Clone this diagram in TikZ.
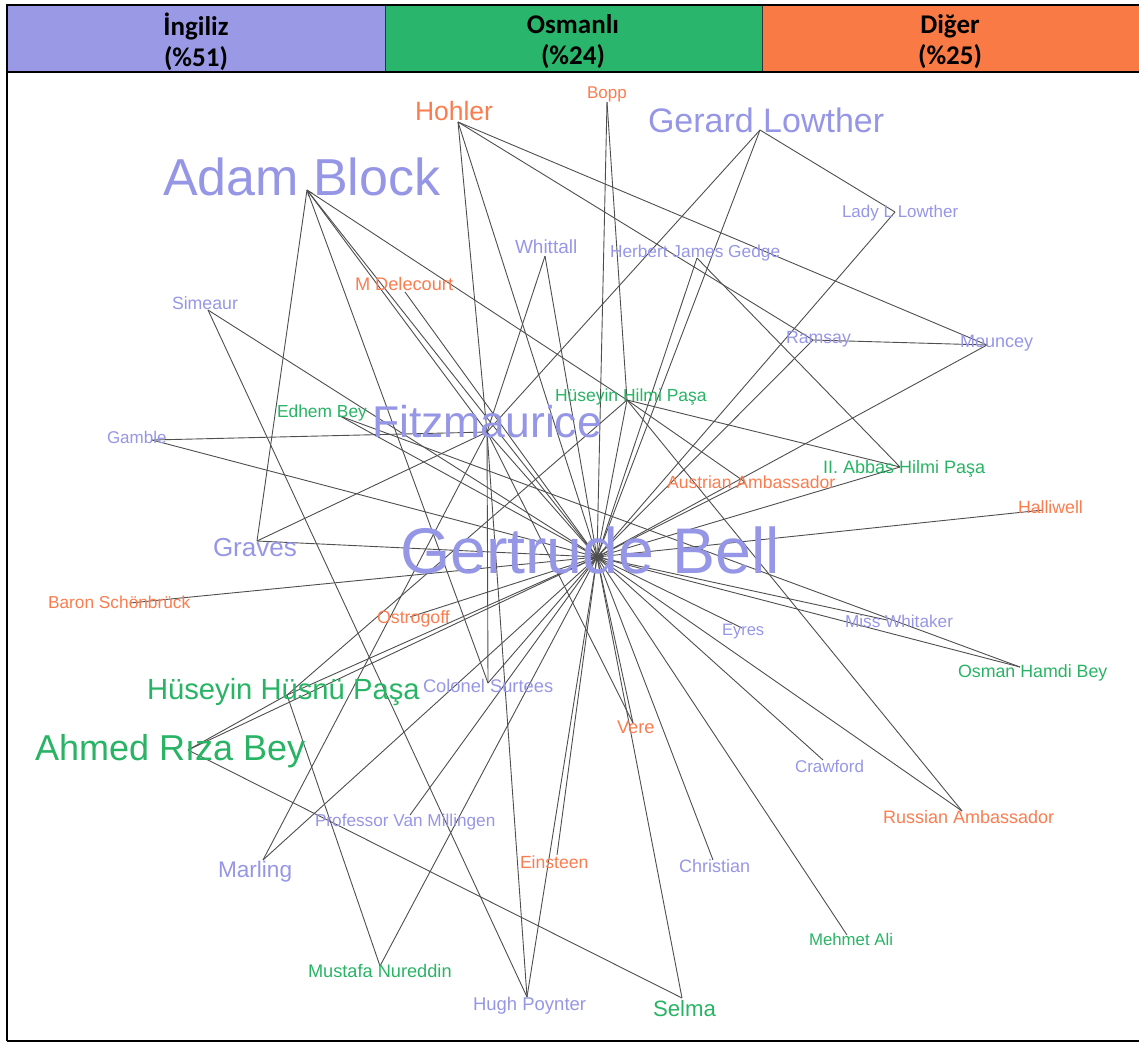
\documentclass[tikz,border=0pt]{standalone}
\usepackage{fontspec}
\usetikzlibrary{arrows.meta}
\setmainfont{Liberation Sans}
\newfontfamily\hdrfont{Carlito}
\definecolor{purF}{RGB}{153,153,230}
\definecolor{grnF}{RGB}{42,181,108}
\definecolor{orgF}{RGB}{249,122,69}
\definecolor{purT}{RGB}{150,150,230}
\definecolor{grnT}{RGB}{40,180,100}
\definecolor{orgT}{RGB}{250,125,80}
\definecolor{edgeC}{RGB}{78,78,78}
\begin{document}
\begin{tikzpicture}[x=1pt,y=-1pt,
  fs/.style={font=\fontsize{#1}{#1}\selectfont},
  lab/.style={anchor=base west,inner sep=0pt,outer sep=0pt},
  P/.style={lab,text=purT},
  G/.style={lab,text=grnT},
  O/.style={lab,text=orgT},
  edge/.style={draw=edgeC,line width=0.9pt},
  tip/.style={edge,-{Straight Barb[length=5pt,width=5pt,line width=0.8pt]}},
  hdr/.style={inner sep=0pt,align=center,font=\hdrfont\bfseries\fontsize{27}{31}\selectfont,text=black}]
\useasboundingbox (0,0) rectangle (1139,1044);
% header
\fill[purF] (7,5) rectangle (385,72);
\fill[grnF] (385,5) rectangle (762,72);
\fill[orgF] (762,5) rectangle (1139,72);
\draw[black!80,line width=1pt] (385,5) -- (385,72) (762,5) -- (762,72);
\draw[black,line width=2.5pt] (1139,5) -- (7,5) -- (7,1041);
\draw[black,line width=2.5pt] (7,72) -- (1139,72);
\draw[black,line width=1.6pt] (7,1041) -- (1139,1041);
\node[hdr] (h1) at (196,42) {İngiliz\\(\%51)};
\node[hdr] (h2) at (573,42) {Osmanlı\\(\%24)};
\node[hdr] (h3) at (950,42) {Diğer\\(\%25)};
% node points
\coordinate (AB) at (307,190);
\coordinate (HO) at (458,122);
\coordinate (BO) at (607,102);
\coordinate (GL) at (760,130);
\coordinate (LL) at (895,212);
\coordinate (WH) at (545,256);
\coordinate (HG) at (697,258);
\coordinate (MD) at (405,292);
\coordinate (SI) at (208,310);
\coordinate (RA) at (813,340);
\coordinate (MO) at (987,345);
\coordinate (HHP) at (627,400);
\coordinate (EB) at (340,416);
\coordinate (FI) at (487,432);
\coordinate (GA) at (152,440);
\coordinate (AA) at (745,482);
\coordinate (IAB) at (900,467);
\coordinate (HA) at (1043,510);
\coordinate (GR) at (257,541);
\coordinate (GB) at (597,557);
\coordinate (BS) at (130,603);
\coordinate (OS) at (410,617);
\coordinate (MW) at (887,620);
\coordinate (EY) at (742,628);
\coordinate (OHB) at (1020,667);
\coordinate (HHU) at (287,695);
\coordinate (CS) at (488,683);
\coordinate (ARB) at (188,750);
\coordinate (VE) at (633,723);
\coordinate (CR) at (823,760);
\coordinate (RUS) at (962,811);
\coordinate (PVM) at (410,815);
\coordinate (EI) at (557,855);
\coordinate (CH) at (713,860);
\coordinate (MA) at (263,860);
\coordinate (ME) at (847,935);
\coordinate (MN) at (380,966);
\coordinate (HP) at (527,997);
\coordinate (SE) at (682,998);
% edges
\foreach \a/\b in {GB/AB,GB/FI,GB/HO,GB/BO,GB/GL,GB/LL,GB/WH,GB/HG,GB/MD,GB/SI,GB/RA,GB/MO,GB/GA,GB/EB,GB/HA,GB/GR,GB/BS,GB/OS,GB/EY,GB/HHU,GB/ARB,GB/CR,GB/RUS,GB/PVM,GB/EI,GB/CH,GB/MA,GB/ME,GB/MN,GB/HP,GB/SE,GB/AA,GB/HHP,GB/CS,GB/VE,
  AB/GR,AB/HHP,AB/CS,HO/FI,HO/MO,HO/RA,BO/HHP,GL/LL,GL/FI,HG/IAB,SI/HP,RA/MO,HHP/IAB,HHP/RUS,HHP/HHU,HHP/AA,EB/OHB,FI/GA,FI/CS,FI/HP,FI/VE,FI/MA,FI/GR,WH/FI,ARB/HHU,ARB/SE,HHU/MN}
  {\draw[edge] (\a) -- (\b);}
% directed edges with small tips
\foreach \a/\b in {IAB/GB,MW/GB,OHB/GB,FI/AB}
  {\draw[tip] (\a) -- (\b);}
% labels
\node[P,fs=64.5] (tGB) at (400,573) {Gertrude Bell};
\node[P,fs=52] (tAB) at (163,195) {Adam Block};
\node[P,fs=44.5] (tFI) at (372,437) {Fitzmaurice};
\node[P,fs=34] (tGL) at (648,132) {Gerard Lowther};
\node[O,fs=26.5] (tHO) at (415,120) {Hohler};
\node[O,fs=17] (tBO) at (587,98) {Bopp};
\node[P,fs=19] (tWH) at (515,253) {Whittall};
\node[P,fs=17.3] (tHG) at (610,257) {Herbert James Gedge};
\node[P,fs=17] (tLL) at (842,217) {Lady L Lowther};
\node[O,fs=18.2] (tMD) at (355,290) {M Delecourt};
\node[P,fs=17.7] (tSI) at (172,309) {Simeaur};
\node[P,fs=17.7] (tRA) at (786,343) {Ramsay};
\node[P,fs=18] (tMO) at (960,347) {Mouncey};
\node[G,fs=17.5] (tHHP) at (555,401) {Hüseyin Hilmi Paşa};
\node[G,fs=17.4] (tEB) at (277,417) {Edhem Bey};
\node[P,fs=17] (tGA) at (107,443) {Gamble};
\node[G,fs=18] (tIAB) at (823,473) {II. Abbas Hilmi Paşa};
\node[O,fs=17.6] (tAA) at (667,488) {Austrian Ambassador};
\node[O,fs=17.7] (tHA) at (1018,513) {Halliwell};
\node[P,fs=26] (tGR) at (213,556) {Graves};
\node[O,fs=17.3] (tBS) at (48,608) {Baron Schönbrück};
\node[O,fs=17.8] (tOS) at (377,623) {Ostrogoff};
\node[P,fs=17.2] (tMW) at (845,627) {Miss Whitaker};
\node[P,fs=16.5] (tEY) at (722,635) {Eyres};
\node[G,fs=17.8] (tOHB) at (958,677) {Osman Hamdi Bey};
\node[G,fs=29.2] (tHHU) at (147,699) {Hüseyin Hüsnü Paşa};
\node[P,fs=18.3] (tCS) at (423,692) {Colonel Surtees};
\node[G,fs=36] (tARB) at (35,760) {Ahmed Rıza Bey};
\node[O,fs=18.3] (tVE) at (617,733) {Vere};
\node[P,fs=17] (tCR) at (795,772) {Crawford};
\node[O,fs=18] (tRUS) at (883,823) {Russian Ambassador};
\node[P,fs=17.2] (tPVM) at (315,826) {Professor Van Millingen};
\node[O,fs=17.6] (tEI) at (520,868) {Einsteen};
\node[P,fs=18] (tCH) at (679,872) {Christian};
\node[P,fs=22.6] (tMA) at (218,877) {Marling};
\node[G,fs=16.8] (tME) at (809,945) {Mehmet Ali};
\node[G,fs=18.2] (tMN) at (308,977) {Mustafa Nureddin};
\node[P,fs=18.5] (tHP) at (473,1010) {Hugh Poynter};
\node[G,fs=22.2] (tSE) at (653,1016) {Selma};
\end{tikzpicture}
\end{document}
